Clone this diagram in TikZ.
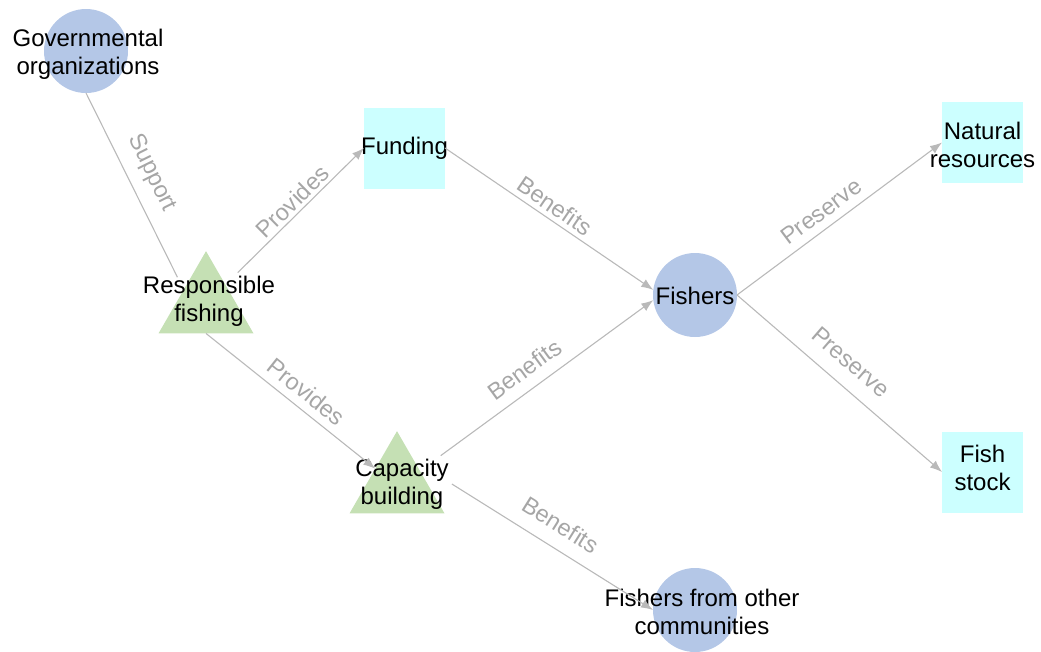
\documentclass[tikz,border=0pt]{standalone}
\usepackage{fontspec}
\setmainfont{Liberation Sans}
\usetikzlibrary{shapes.geometric, arrows.meta}

\definecolor{circblue}{RGB}{180,199,231}
\definecolor{sqcyan}{RGB}{204,255,255}
\definecolor{trigreen}{RGB}{197,224,180}
\definecolor{edgegray}{RGB}{185,185,185}
\definecolor{labelgray}{RGB}{166,166,166}

\begin{document}
\begin{tikzpicture}[x=1pt, y=-1pt,
                        circ/.style={circle, fill=circblue, minimum size=84pt, inner sep=0pt, outer sep=0pt},
                        sq/.style={rectangle, fill=sqcyan, minimum size=81pt, inner sep=0pt, outer sep=0pt},
                        tri/.style={regular polygon, regular polygon sides=3, fill=trigreen, minimum size=109.7pt, inner sep=0pt, outer sep=0pt},
                        txt/.style={align=center, font=\fontsize{24}{28}\selectfont, inner sep=3pt},
                        rel/.style={draw=edgegray, line width=1.1pt, -{Latex[length=12pt, width=9pt]}},
                        lbl/.style={sloped, above=#1, text=labelgray, font=\fontsize{23.5}{28}\selectfont, inner sep=2pt},
                        lbl/.default=7pt]
                        \useasboundingbox (0,0) rectangle (1041,651);
                        \node[circ] (Gov) at (86,51) {};
                        \node[txt] (Gov-t) at ([shift={(2pt,-3pt)}]Gov) {Governmental\\organizations};
                        \node[sq] (Fund) at (404.5,148) {};
                        \node[txt] (Fund-t) at (Fund) {Funding};
                        \node[sq] (Nat) at (982.5,142.5) {};
                        \node[txt] (Nat-t) at ([yshift=-2pt]Nat) {Natural\\resources};
                        \node[tri] (Resp) at (206,306) {};
                        \node[txt] (Resp-t) at ([shift={(3pt,5pt)}]Resp) {Responsible\\fishing};
                        \node[circ] (Fish) at (695,295) {};
                        \node[txt] (Fish-t) at ([yshift=-1pt]Fish) {Fishers};
                        \node[tri] (Cap) at (397,486) {};
                        \node[txt] (Cap-t) at ([shift={(5pt,2pt)}]Cap) {Capacity\\building};
                        \node[sq] (Stock) at (982.5,472) {};
                        \node[txt] (Stock-t) at ([yshift=4pt]Stock) {Fish\\stock};
                        \node[circ] (Other) at (695,610) {};
                        \node[txt] (Other-t) at ([shift={(7pt,-2pt)}]Other) {Fishers from other\\communities};
                        \draw[rel, -, shorten >=14pt] (Gov.south) -- (Resp.144) node[lbl=10pt, pos=0.46] {Support};
                        \draw[rel] (Resp-t) -- (Fund.west) node[lbl=1pt, pos=0.5] {Provides};
                        \draw[rel] (Resp.south) -- (Cap) node[lbl=6pt, pos=0.53] {Provides};
                        \draw[rel] (Fund.east) -- (Fish.173) node[lbl=3pt, pos=0.49] {Benefits};
                        \draw[rel] (Cap-t) -- (Fish.187) node[lbl=9pt, pos=0.45] {Benefits};
                        \draw[rel] (Cap-t.east) -- (Other.west) node[lbl=12pt, pos=0.48] {Benefits};
                        \draw[rel] (Fish.east) -- (Nat.west) node[lbl=6pt, pos=0.46] {Preserve};
                        \draw[rel] (Fish.east) -- (Stock.west) node[lbl=13pt, pos=0.48] {Preserve};
                    \end{tikzpicture}
\end{document}
